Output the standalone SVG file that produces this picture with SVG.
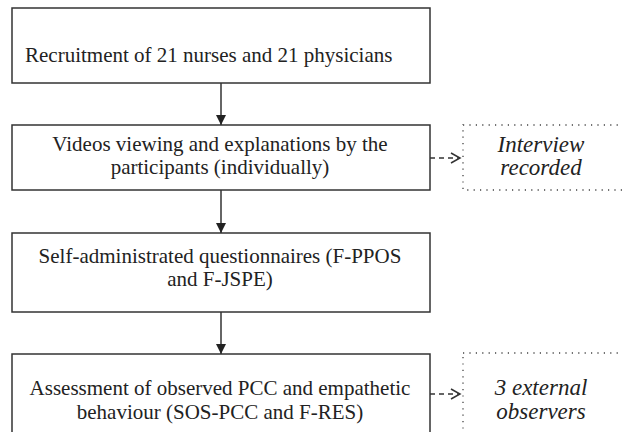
<svg xmlns="http://www.w3.org/2000/svg" width="623" height="432" viewBox="0 0 623 432">
<style>
.box{fill:#fff;stroke:#333;stroke-width:1.5}
.dot{fill:none;stroke:#444;stroke-width:1.3;stroke-dasharray:1.2 5.2}
text{font-family:'Liberation Serif','Times New Roman',serif;font-size:21px;fill:#222}
.i{font-style:italic;text-anchor:middle;font-size:23px}
.c{text-anchor:middle}
.ln{stroke:#333;stroke-width:1.5;fill:none}
.dash{stroke:#333;stroke-width:1.3;fill:none;stroke-dasharray:5 4}
</style>
<defs>
<marker id="ah" viewBox="0 0 10 10" refX="10" refY="5" markerWidth="10" markerHeight="10" markerUnits="userSpaceOnUse" orient="auto">
<path d="M0,0 L10,5 L0,10 Z" fill="#222"/>
</marker>
</defs>
<rect width="623" height="432" fill="#fff"/>
<g id="n1"><rect class="box" x="12" y="8" width="418" height="75"/><text x="25" y="62">Recruitment of 21 nurses and 21 physicians</text></g>
<g id="n2"><rect class="box" x="12" y="125" width="418" height="65"/><text class="c" x="220" y="151">Videos viewing and explanations by the</text><text class="c" x="220" y="174">participants (individually)</text></g>
<g id="n3"><rect class="box" x="12" y="233" width="418" height="79"/><text class="c" x="220" y="263">Self-administrated questionnaires (F-PPOS</text><text class="c" x="220" y="286">and F-JSPE)</text></g>
<g id="n4"><rect class="box" x="12" y="354" width="418" height="90"/><text class="c" x="220" y="395">Assessment of observed PCC and empathetic</text><text class="c" x="220" y="419">behaviour (SOS-PCC and F-RES)</text></g>
<g id="n5"><rect class="dot" x="463" y="125" width="175" height="65"/><text class="i" x="541" y="152">Interview</text><text class="i" x="541" y="175">recorded</text></g>
<g id="n6"><rect class="dot" x="463" y="353" width="175" height="90"/><text class="i" x="541" y="395">3 external</text><text class="i" x="541" y="419">observers</text></g>
<g id="connectors">
<line class="ln" x1="221" y1="83" x2="221" y2="125" marker-end="url(#ah)"/>
<line class="ln" x1="221" y1="190" x2="221" y2="233" marker-end="url(#ah)"/>
<line class="ln" x1="221" y1="312" x2="221" y2="354" marker-end="url(#ah)"/>
<line class="dash" x1="430" y1="158" x2="459" y2="158"/>
<path class="ln" d="M451,153 L460,158 L451,163" stroke-width="1.2"/>
<line class="dash" x1="430" y1="394" x2="459" y2="394"/>
<path class="ln" d="M451,389 L460,394 L451,399" stroke-width="1.2"/>
</g>
</svg>
